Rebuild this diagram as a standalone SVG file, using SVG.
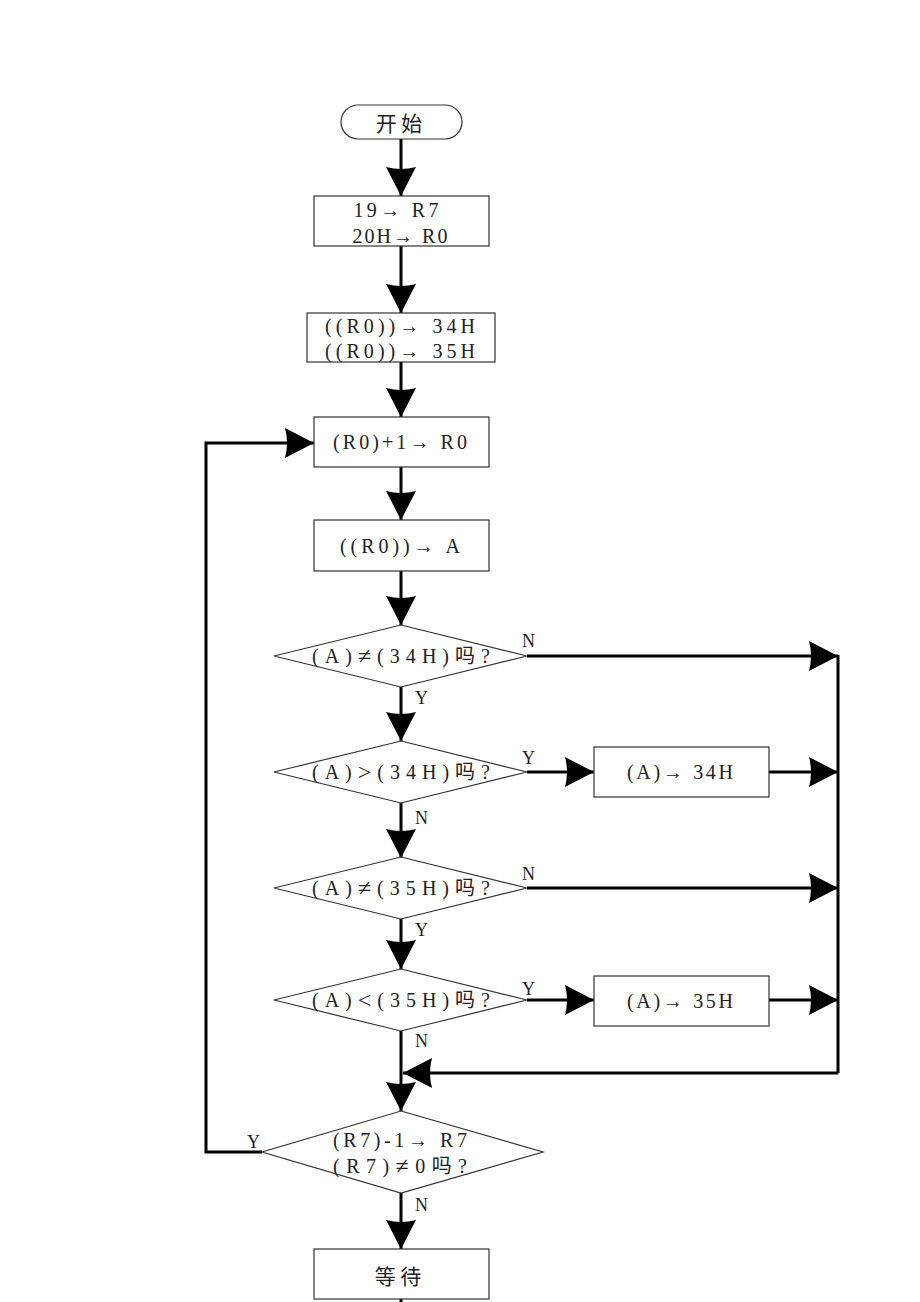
<svg xmlns="http://www.w3.org/2000/svg" width="920" height="1302" viewBox="0 0 920 1302">
<style>
.node{fill:#fff;stroke:#333;stroke-width:1.2}
.t{font-family:"Liberation Serif","Noto Sans CJK SC",serif;font-size:20px;fill:#222;text-anchor:middle;dominant-baseline:central}
.big{font-size:24px}
.cj{font-family:"Noto Sans CJK SC",sans-serif;font-size:21px;fill:#222;text-anchor:middle;dominant-baseline:central}
.lb{font-family:"Liberation Serif","Noto Sans CJK SC",serif;font-size:18px;fill:#222;dominant-baseline:central}
.c{fill:none;stroke:#000;stroke-width:3;marker-end:url(#ah)}
.cn{fill:none;stroke:#000;stroke-width:3}
</style>
<defs>
<marker id="ah" markerUnits="userSpaceOnUse" viewBox="0 0 30 30" refX="30" refY="15" markerWidth="30" markerHeight="30" orient="auto">
<path d="M30,15 L1,0 Q5,15 1,30 Z" fill="#000"/>
</marker>
</defs>
<rect width="920" height="1302" fill="#fff"/>

<g id="connectors">
<line class="c" x1="401" y1="139" x2="401" y2="196"/>
<line class="c" x1="401" y1="246" x2="401" y2="313"/>
<line class="c" x1="401" y1="362" x2="401" y2="417"/>
<line class="c" x1="401" y1="467" x2="401" y2="520"/>
<line class="c" x1="401" y1="571" x2="401" y2="625"/>
<line class="c" x1="401" y1="687" x2="401" y2="741"/>
<line class="c" x1="401" y1="803" x2="401" y2="858"/>
<line class="c" x1="401" y1="919" x2="401" y2="969"/>
<line class="c" x1="401" y1="1031" x2="401" y2="1111"/>
<line class="c" x1="401" y1="1193" x2="401" y2="1249"/>
<line class="cn" x1="401" y1="1299" x2="401" y2="1302"/>
<line class="c" x1="527" y1="656" x2="838" y2="656"/>
<line class="c" x1="527" y1="772" x2="594" y2="772"/>
<line class="c" x1="769" y1="772" x2="838" y2="772"/>
<line class="c" x1="527" y1="888" x2="838" y2="888"/>
<line class="c" x1="527" y1="1000" x2="594" y2="1000"/>
<line class="c" x1="769" y1="1000" x2="838" y2="1000"/>
<line class="cn" x1="838" y1="655" x2="838" y2="1073"/>
<polyline class="c" points="838,1073 403,1073"/>
<polyline class="c" points="262,1152 206,1152 206,443 314,443"/>
</g>

<g id="start">
<rect class="node" x="341" y="105" width="121" height="34" rx="17" ry="17"/>
<text class="cj" x="399" y="122">开 始</text>
</g>

<g id="init1">
<rect class="node" x="314" y="196" width="175" height="50"/>
<text class="t" x="396" y="210" textLength="85" lengthAdjust="spacing">19→ R7</text>
<text class="t" x="400" y="236" textLength="95" lengthAdjust="spacing">20H→ R0</text>
</g>

<g id="init2">
<rect class="node" x="307" y="313" width="188" height="49"/>
<text class="t" x="400" y="326" textLength="150" lengthAdjust="spacing">((R0))→ 34H</text>
<text class="t" x="400" y="351" textLength="150" lengthAdjust="spacing">((R0))→ 35H</text>
</g>

<g id="inc">
<rect class="node" x="314" y="417" width="175" height="50"/>
<text class="t" x="400" y="442" textLength="134" lengthAdjust="spacing">(R0)+1→ R0</text>
</g>

<g id="load">
<rect class="node" x="314" y="520" width="175" height="51"/>
<text class="t" x="400" y="546" textLength="120" lengthAdjust="spacing">((R0))→ A</text>
</g>

<g id="d1">
<polygon class="node" points="401,625 527,656 401,687 274,656"/>
<text class="t" x="401" y="656" textLength="178" lengthAdjust="spacing">(A)<tspan class="big">≠</tspan>(34H)吗?</text>
<text class="lb" x="522" y="641">N</text>
<text class="lb" x="415" y="698">Y</text>
</g>

<g id="d2">
<polygon class="node" points="401,741 527,772 401,803 274,772"/>
<text class="t" x="401" y="772" textLength="178" lengthAdjust="spacing">(A)<tspan class="big">&gt;</tspan>(34H)吗?</text>
<text class="lb" x="522" y="758">Y</text>
<text class="lb" x="415" y="818">N</text>
</g>

<g id="set34">
<rect class="node" x="594" y="747" width="175" height="50"/>
<text class="t" x="680" y="772" textLength="106" lengthAdjust="spacing">(A)→ 34H</text>
</g>

<g id="d3">
<polygon class="node" points="401,857 527,888 401,919 274,888"/>
<text class="t" x="401" y="888" textLength="178" lengthAdjust="spacing">(A)<tspan class="big">≠</tspan>(35H)吗?</text>
<text class="lb" x="522" y="874">N</text>
<text class="lb" x="415" y="930">Y</text>
</g>

<g id="d4">
<polygon class="node" points="401,969 527,1000 401,1031 274,1000"/>
<text class="t" x="401" y="1000" textLength="178" lengthAdjust="spacing">(A)<tspan class="big">&lt;</tspan>(35H)吗?</text>
<text class="lb" x="522" y="989">Y</text>
<text class="lb" x="415" y="1041">N</text>
</g>

<g id="set35">
<rect class="node" x="594" y="976" width="175" height="50"/>
<text class="t" x="680" y="1001" textLength="106" lengthAdjust="spacing">(A)→ 35H</text>
</g>

<g id="d5">
<polygon class="node" points="401,1111 543,1152 401,1193 262,1152"/>
<text class="t" x="400" y="1140" textLength="134" lengthAdjust="spacing">(R7)-1→ R7</text>
<text class="t" x="400" y="1166" textLength="134" lengthAdjust="spacing">(R7)<tspan class="big">≠</tspan>0吗?</text>
<text class="lb" x="247" y="1142">Y</text>
<text class="lb" x="415" y="1205">N</text>
</g>

<g id="wait">
<rect class="node" x="314" y="1249" width="175" height="50"/>
<text class="cj" x="398" y="1275">等 待</text>
</g>
</svg>
